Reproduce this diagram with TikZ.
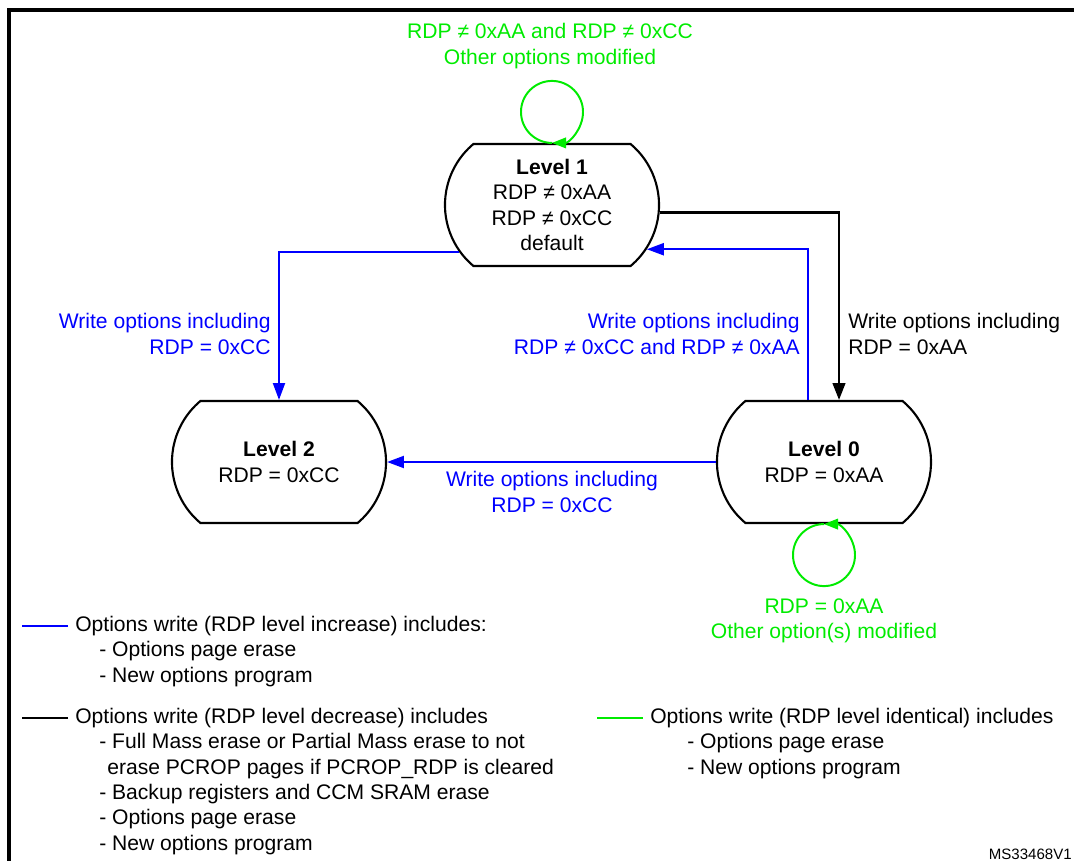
\documentclass[tikz,border=0pt]{standalone}
\usepackage{fontspec}
\setmainfont{Liberation Sans}
\usetikzlibrary{arrows.meta,shapes.misc}
\definecolor{rdpblue}{RGB}{0,0,255}
\definecolor{rdpgreen}{RGB}{0,235,0}
\tikzset{
  lbl/.style={font=\fontsize{15}{18}\selectfont, inner sep=0pt},
  level/.style={lbl, rounded rectangle, rounded rectangle arc length=100, draw, line width=1.5pt,
    minimum width=5.35cm, minimum height=3.05cm, align=center},
  up/.style={rdpblue, line width=1.5pt, -{Triangle[length=12pt,width=8.5pt]}},
  down/.style={black, line width=1.6pt, -{Triangle[length=12pt,width=9pt]}},
  same/.style={rdpgreen, line width=1.4pt, -{Triangle[length=10pt,width=7.5pt]}},
}
\begin{document}
\begin{tikzpicture}[x=0.025cm,y=0.025cm]
    \useasboundingbox (0,0) rectangle (1074,-861);
    \draw[line width=2.2pt] (1074,-10) -| (9,-861);

    % levels
    \node[level] (lv1) at (552,-205) {\textbf{Level 1}\\RDP ≠ 0xAA\\RDP ≠ 0xCC\\default};
    \node[level] (lv2) at (279,-462) {\textbf{Level 2}\\RDP = 0xCC};
    \node[level] (lv0) at (824,-462) {\textbf{Level 0}\\RDP = 0xAA};

    % transitions
    \draw[up] (lv1.207) -| (lv2.north);
    \draw[down] (lv1.-4) -| ([xshift=0.375cm]lv0.north);
    \draw[up] ([xshift=-0.4cm]lv0.north) |- (lv1.-25);
    \draw[up] (lv0.west) -- (lv2.east);
    \draw[same] (lv1.north) arc[start angle=-90, end angle=-450, radius=0.775cm];
    \draw[same] (lv0.south) arc[start angle=90, end angle=450, radius=0.775cm];

    \node[lbl, text=rdpgreen, align=center] (same1) at (550,-46) {RDP ≠ 0xAA and RDP ≠ 0xCC\\Other options modified};
    \node[lbl, text=rdpblue, anchor=east, align=right] (up12) at (271,-334) {Write options including\\RDP = 0xCC};
    \node[lbl, text=rdpblue, anchor=east, align=right] (up01) at (800,-334) {Write options including\\RDP ≠ 0xCC and RDP ≠ 0xAA};
    \node[lbl, anchor=west, align=left] (down10) at (848,-334) {Write options including\\RDP = 0xAA};
    \node[lbl, text=rdpblue, align=center] (up02) at (552,-492) {Write options including\\RDP = 0xCC};
    \node[lbl, text=rdpgreen, align=center] (same0) at (824,-621) {RDP = 0xAA\\Other option(s) modified};

    % legend
    \node[lbl, anchor=west] (legup) at (75,-626) {Options write (RDP level increase) includes:};
    \node[lbl, anchor=west, align=left] (leguplist) at (99,-664) {- Options page erase\\- New options program};
    \node[lbl, anchor=west] (legdown) at (75,-718) {Options write (RDP level decrease) includes};
    \node[lbl, anchor=west, align=left] (legdownlist) at (99,-794) {- Full Mass erase or Partial Mass erase to not\\
        \hspace*{5.7pt}erase PCROP pages if PCROP\_RDP is cleared\\- Backup registers and CCM SRAM erase\\
        - Options page erase\\- New options program};
    \node[lbl, anchor=west] (legsame) at (650,-718) {Options write (RDP level identical) includes};
    \node[lbl, anchor=west, align=left] (legsamelist) at (687,-756) {- Options page erase\\- New options program};
    \draw[rdpblue, line width=1.6pt] (legup.west) ++(-7,0) -- ++(-46,0);
    \draw[black, line width=1.6pt] (legdown.west) ++(-7,0) -- ++(-46,0);
    \draw[rdpgreen, line width=1.6pt] (legsame.west) ++(-7,0) -- ++(-46,0);

    \node[font=\fontsize{10.7}{12}\selectfont, anchor=base east, inner sep=0pt] (msid) at (1072,-859) {MS33468V1};
\end{tikzpicture}
\end{document}
